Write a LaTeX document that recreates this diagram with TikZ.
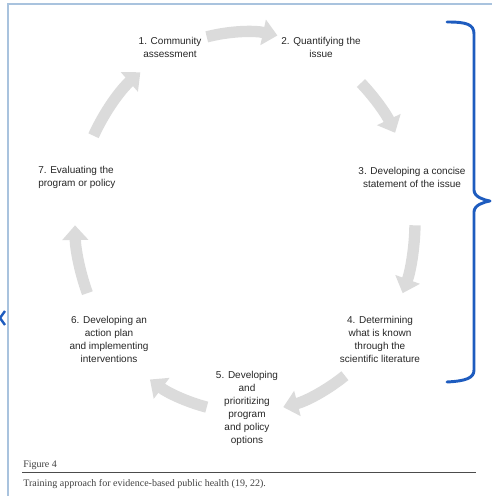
\documentclass[tikz,border=0pt]{standalone}
\usepackage{fontspec}
\setmainfont{Liberation Serif}
\newfontfamily\lblfont{Liberation Sans}
\usetikzlibrary{arrows.meta,calc}
\definecolor{framebl}{HTML}{A9C3DE}
\definecolor{bracebl}{HTML}{1E5CBF}

\begin{document}
\begin{tikzpicture}
[
x=0.75pt, y=0.75pt,
stage/.style = {font=\lblfont\fontsize{7.5}{9.75}\selectfont, align=center, text=black!85, inner sep=0pt},
cyc/.style   = {line width=8.5pt, draw=black!14, -{Triangle[width=19pt,length=11pt]}},
capt/.style  = {anchor=west, inner sep=0pt, text=black!75, font=\fontsize{7.5}{9}\selectfont},
]
\useasboundingbox (0,0) rectangle (492,496);
\draw[framebl, line width=0.9pt] (8,0) -- (8,492) -- (492,492);

% the seven stages
\coordinate (ctr) at (245,274);
\node[stage] (comm)  at (170,449) {1. Community\\assessment};
\node[stage] (quant) at (321,449) {2. Quantifying the\\issue};
\node[stage] (stmt)  at (412,319) {3. Developing a concise\\statement of the issue};
\node[stage] (known) at (380,156.5) {4. Determining\\what is known\\through the\\scientific literature};
\node[stage] (prior) at (247,87.5) {5. Developing\\and\\prioritizing\\program\\and policy\\options};
\node[stage] (plan)  at (109,156.5) {6. Developing an\\action plan\\and implementing\\interventions};
\node[stage, anchor=west, align=left] (eval) at (38,319) {7. Evaluating the\\program or policy};

% cycle arrows
\foreach \s/\e in {103/79, 47/28, -1/-22, -54/-77, -103/-124, 202/181, 153/128}
  \draw[cyc] (ctr) ++(\s:127.5pt and 142.5pt)
    arc[start angle=\s, end angle=\e, x radius=127.5pt, y radius=142.5pt];

% brackets
\draw[bracebl, line width=2.2pt, line cap=round, line join=round]
  (447,474) .. controls (466,474) and (474,472) .. (474,462) -- (474,306)
  .. controls (474,299) and (484,296) .. (490,295)
  .. controls (484,294) and (474,291) .. (474,284) -- (474,126)
  .. controls (474,118) and (466,115) .. (447,114);
\draw[bracebl, line width=1.8pt] (5,185) -- (0,178) -- (5,171);

% caption
\node[capt] (fig) at (23,31) {Figure 4};
\draw[black!70, line width=0.6pt] (22,24) -- (476,24);
\node[capt] (cap) at (23,12) {Training approach for evidence-based public health (19, 22).};
\end{tikzpicture}
\end{document}
